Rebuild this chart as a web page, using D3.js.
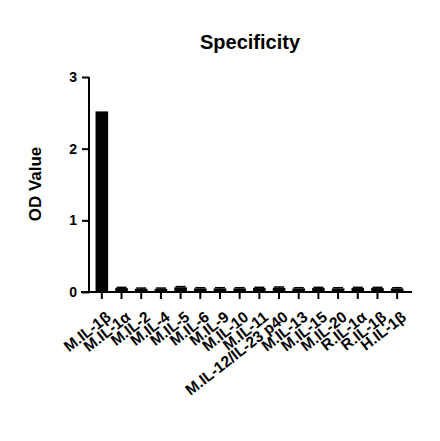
<!DOCTYPE html>
<html>
<head>
<meta charset="utf-8">
<script src="https://cdn.jsdelivr.net/npm/d3@7"></script>
<style>
  html, body { margin: 0; padding: 0; background: #fff; }
  svg text { font-family: "Liberation Sans", Arial, sans-serif; font-weight: bold; fill: #000; }
</style>
</head>
<body>
<svg id="chart" width="440" height="441"></svg>
<script>
// datos
const categories = ["M.IL-1β", "M.IL-1α", "M.IL-2", "M.IL-4", "M.IL-5", "M.IL-6", "M.IL-9", "M.IL-10",
  "M.IL-11", "M.IL-12/IL-23 p40", "M.IL-13", "M.IL-15", "M.IL-20", "R.IL-1α", "R.IL-1β", "H.IL-1β"];
const odValues = [2.52, 0.055, 0.045, 0.045, 0.065, 0.05, 0.05, 0.05, 0.055, 0.06, 0.05, 0.055, 0.05, 0.055, 0.055, 0.05];
const odErrors = [0, 0.01, 0.01, 0.01, 0.01, 0.01, 0.01, 0.01, 0.01, 0.01, 0.01, 0.01, 0.01, 0.01, 0.01, 0.01];
const yTicks = [0, 1, 2, 3];

(function() {
  const svg = d3.select('#chart');
  const x0 = 89, x1 = 412, yTop = 77, yBot = 292;

  const x = d3.scaleBand()
    .domain(categories)
    .range([92, 407])
    .paddingInner(0.36)
    .paddingOuter(0.18);

  const y = d3.scaleLinear().domain([0, 3]).range([yBot, yTop]);

  // titulo
  svg.append('text')
    .attr('x', 250).attr('y', 49)
    .attr('text-anchor', 'middle')
    .style('font-size', '20px')
    .text('Specificity');

  // barras
  svg.append('g').selectAll('rect')
    .data(categories)
    .join('rect')
    .attr('x', d => x(d))
    .attr('width', x.bandwidth())
    .attr('y', (d, i) => y(odValues[i]))
    .attr('height', (d, i) => y(0) - y(odValues[i]))
    .attr('fill', '#000');

  // barras de error (solo hacia arriba)
  const err = svg.append('g').attr('stroke', '#000').attr('stroke-width', 1.5);
  categories.forEach(function(c, i) {
    if (!odErrors[i]) return;
    const cx = x(c) + x.bandwidth() / 2;
    const top = y(odValues[i] + odErrors[i]);
    err.append('line').attr('x1', cx).attr('x2', cx).attr('y1', y(odValues[i])).attr('y2', top);
    err.append('line').attr('x1', cx - 5).attr('x2', cx + 5).attr('y1', top).attr('y2', top);
  });

  // eje Y
  const yAxis = d3.axisLeft(y).tickValues(yTicks).tickFormat(d3.format('d')).tickSize(7).tickPadding(5);
  const gy = svg.append('g').attr('transform', `translate(${x0},0)`).call(yAxis);
  gy.select('.domain').attr('stroke-width', 2).attr('d', `M0,${yTop}V${yBot}`);
  gy.selectAll('.tick line').attr('stroke-width', 2);
  gy.selectAll('.tick text').style('font-size', '14px');

  // eje X
  const xAxis = d3.axisBottom(x).tickSize(7).tickSizeOuter(0);
  const gx = svg.append('g').attr('transform', `translate(0,${yBot})`).call(xAxis);
  gx.select('.domain').attr('stroke-width', 2).attr('d', `M${x0 - 8},0H${x1}`);
  gx.selectAll('.tick line').attr('stroke-width', 2);
  gx.selectAll('.tick text')
    .style('font-size', '15.5px')
    .attr('text-anchor', 'end')
    .attr('y', 0)
    .attr('dy', null)
    .attr('transform', 'translate(10,27) rotate(-38)');

  // etiqueta eje Y
  svg.append('text')
    .attr('transform', 'translate(41,184) rotate(-90)')
    .attr('text-anchor', 'middle')
    .style('font-size', '17px')
    .text('OD Value');
})();
</script>
</body>
</html>
